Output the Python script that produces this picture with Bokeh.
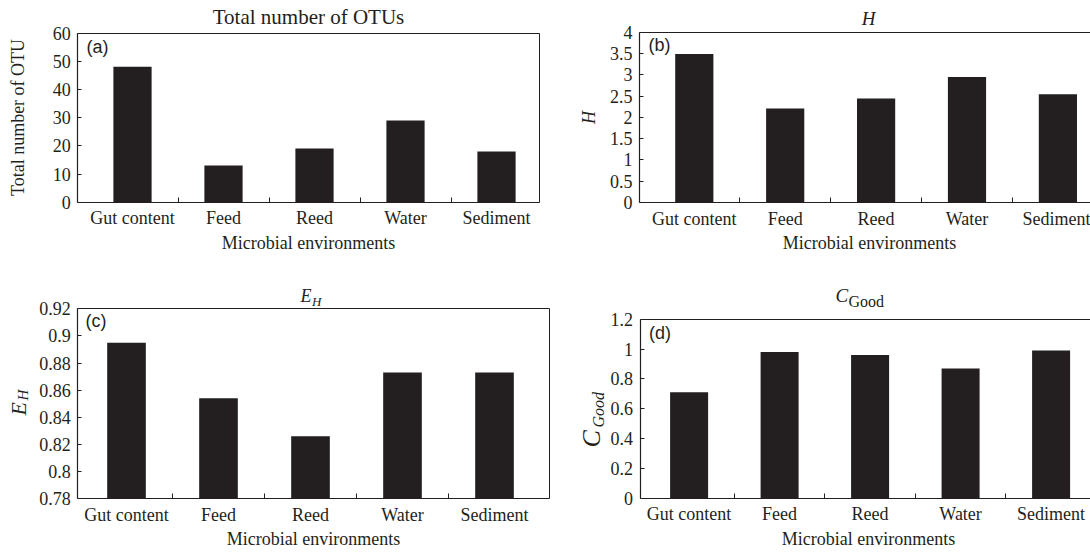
import math
from bokeh.plotting import figure
from bokeh.models import Label, FixedTicker, NumeralTickFormatter, LinearAxis, Range1d
from bokeh.layouts import column, row
from bokeh.embed import file_html
from bokeh.resources import INLINE

# ---------------- data ----------------
categories = ["Gut content", "Feed", "Reed", "Water", "Sediment"]
otu_total = [48, 13, 19, 29, 18]
shannon_h = [3.49, 2.21, 2.44, 2.95, 2.54]
evenness_eh = [0.895, 0.854, 0.826, 0.873, 0.873]
goods_coverage = [0.71, 0.98, 0.96, 0.87, 0.99]

ticks_a = [0, 10, 20, 30, 40, 50, 60]
ticks_b = [0, 0.5, 1, 1.5, 2, 2.5, 3, 3.5, 4]
ticks_c = [0.78, 0.80, 0.82, 0.84, 0.86, 0.88, 0.90, 0.92]
ticks_d = [0, 0.2, 0.4, 0.6, 0.8, 1.0, 1.2]

x_label = "Microbial environments"

INK = "#231f20"
SERIF = "Liberation Serif"
SANS = "Liberation Sans"
FS = 18


class Panel:
    """One figure whose frame is its whole canvas; axes are placed with fixed_location."""

    def __init__(self, values, ymin, ymax, yticks, canvas, box, cat0, sp, right_border):
        cx0, cy0, cx1, cy1 = canvas
        bl, bt, br, bb = box
        self.cx0, self.cy1 = cx0, cy1
        ppu = (bb - bt) / (ymax - ymin)
        xr0 = (cx0 - cat0) / sp
        xr1 = (cx1 - cat0) / sp
        yr1 = ymax + (bt - cy0) / ppu
        yr0 = ymin - (cy1 - bb) / ppu
        xl = (bl - cat0) / sp
        xr = (br - cat0) / sp

        p = figure(width=cx1 - cx0, height=cy1 - cy0,
                   x_range=Range1d(xr0, xr1), y_range=Range1d(yr0, yr1),
                   x_axis_location=None, y_axis_location=None,
                   output_backend="svg", toolbar_location=None, tools="",
                   min_border=0, outline_line_color=None,
                   background_fill_color="white", border_fill_color="white")
        p.xgrid.visible = False
        p.ygrid.visible = False

        xs = list(range(len(categories)))
        p.vbar(x=xs, top=values, bottom=ymin, width=0.42, fill_color=INK, line_color=None)

        xa = LinearAxis(fixed_location=ymin, bounds=(xl, xr),
                        ticker=FixedTicker(ticks=xs, minor_ticks=[i + 0.5 for i in xs[:-1]]),
                        major_label_overrides={i: c for i, c in enumerate(categories)},
                        major_tick_in=0, major_tick_out=0,
                        minor_tick_in=5, minor_tick_out=0, minor_tick_line_color=INK,
                        axis_line_color=INK, axis_line_width=1.2,
                        major_label_text_font=SERIF, major_label_text_font_size=f"{FS}px",
                        major_label_text_color=INK, major_label_standoff=6)
        p.add_layout(xa, "below")

        ya = LinearAxis(fixed_location=xl, bounds=(ymin, ymax),
                        ticker=FixedTicker(ticks=yticks),
                        formatter=NumeralTickFormatter(format="0.[00]"),
                        major_tick_in=4, major_tick_out=0, minor_tick_in=0, minor_tick_out=0,
                        major_tick_line_color=INK, axis_line_color=INK, axis_line_width=1.2,
                        major_label_text_font=SERIF, major_label_text_font_size=f"{FS}px",
                        major_label_text_color=INK, major_label_standoff=7)
        p.add_layout(ya, "left")

        top = LinearAxis(fixed_location=ymax, bounds=(xl, xr), ticker=FixedTicker(ticks=[]),
                         major_tick_in=0, major_tick_out=0, minor_tick_in=0, minor_tick_out=0,
                         major_label_text_font_size="0px", axis_line_color=INK,
                         axis_line_width=1)
        p.add_layout(top, "above")
        if right_border:
            rt = LinearAxis(fixed_location=xr, bounds=(ymin, ymax), ticker=FixedTicker(ticks=[]),
                            major_tick_in=0, major_tick_out=0, minor_tick_in=0, minor_tick_out=0,
                            major_label_text_font_size="0px", axis_line_color=INK,
                            axis_line_width=1)
            p.add_layout(rt, "right")
        self.p = p

    def text(self, text, X, Y, size, style="normal", align="left", rotated=False, font=SERIF):
        """Place a text whose baseline anchor lies at page pixel (X, Y)."""
        shift = 0.34 * size  # the renderer centres 'alphabetic' text; move it back
        if rotated:
            X = X - shift
        else:
            Y = Y - shift
        self.p.add_layout(Label(text=text, x=X - self.cx0, y=self.cy1 - Y,
                                x_units="screen", y_units="screen",
                                angle=(math.pi / 2 if rotated else 0.0), angle_units="rad",
                                text_font=font, text_font_size=f"{size}px",
                                text_font_style=style, text_color=INK,
                                text_align=align, text_baseline="alphabetic"))


# (a) Total number of OTUs
A = Panel(otu_total, 0, 60, ticks_a, (0, 0, 578, 276), (77.2, 32.5, 538.9, 201.7), 132, 91, True)
A.text("Total number of OTUs", 308, 24, 21, align="center")
A.text("(a)", 86, 53, 18, font=SANS)
A.text("Total number of OTU", 24, 117, FS, align="center", rotated=True)
A.text(x_label, 308, 249, FS, align="center")

# (b) H
B = Panel(shannon_h, 0, 4, ticks_b, (578, 0, 1090, 276), (639, 31.7, 1100, 202), 693.8, 90.9, False)
B.text("H", 868, 24, 19, style="italic", align="center")
B.text("(b)", 648, 51, 18, font=SANS)
B.text("H", 595, 117, FS, style="italic", align="center", rotated=True)
B.text(x_label, 869, 249, FS, align="center")

# (c) E_H
C = Panel(evenness_eh, 0.78, 0.92, ticks_c, (0, 276, 578, 552), (77.2, 308.3, 548.5, 498.3), 126, 92, True)
C.text("E", 300, 302, 18, style="italic")
C.text("H", 311.5, 305.5, 13, style="italic")
C.text("(c)", 85, 327, 18, font=SANS)
C.text("E", 25, 415, 22, style="italic", rotated=True)
C.text("H", 28, 400, 15, style="italic", rotated=True)
C.text(x_label, 313, 545, FS, align="center")

# (d) C_Good
D = Panel(goods_coverage, 0, 1.2, ticks_d, (578, 276, 1090, 552), (639.6, 318.7, 1093, 497.7), 688.6, 90.5, False)
D.text("C", 835, 301, 19, style="italic")
D.text("Good", 848, 306, 16)
D.text("(d)", 648.6, 339, 18, font=SANS)
D.text("C", 600, 447, 26, style="italic", rotated=True)
D.text("Good", 603, 427, 16, style="italic", rotated=True)
D.text(x_label, 868, 545, FS, align="center")

layout = column(row(A.p, B.p, spacing=0), row(C.p, D.p, spacing=0), spacing=0)

open("out.html", "w").write(file_html(layout, INLINE))
